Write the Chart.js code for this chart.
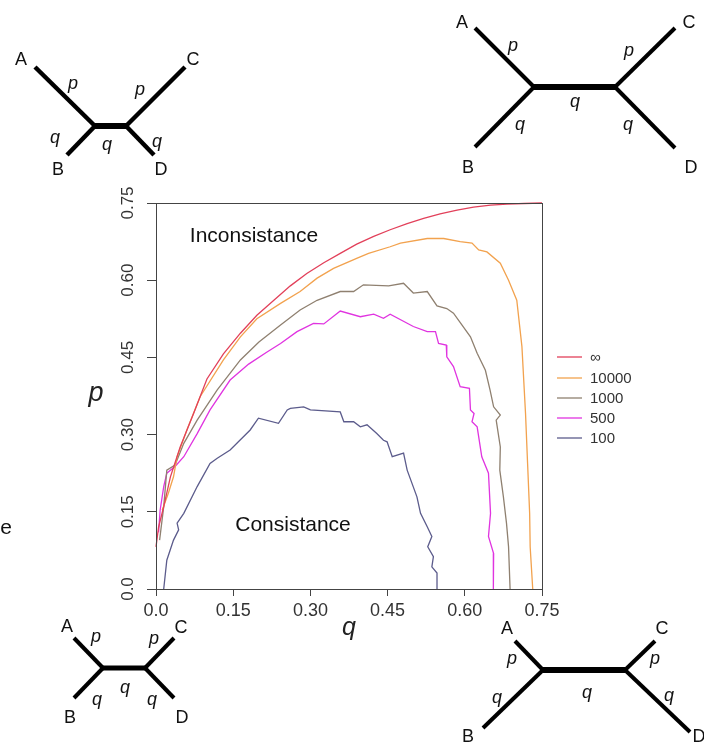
<!DOCTYPE html>
<html>
<head>
<meta charset="utf-8">
<script src="https://cdn.jsdelivr.net/npm/chart.js@4.4.1/dist/chart.umd.min.js"></script>
<style>
  body { margin: 0; background: #fff; }
</style>
</head>
<body>
<canvas id="chart" width="704" height="742"></canvas>
<script>
// series labels and colours
const seriesNames = ['\u221e', '10000', '1000', '500', '100'];
const seriesColors = ['#e2405a', '#f2a24e', '#8f8070', '#e034e0', '#5c5c8c'];

// q (x) and p (y)
const qInf = [0, 0.005, 0.015, 0.028, 0.047, 0.073, 0.099, 0.131, 0.164, 0.196, 0.229, 0.261, 0.293, 0.326, 0.358, 0.390, 0.423, 0.455, 0.488, 0.520, 0.552, 0.585, 0.617, 0.650, 0.682, 0.715, 0.75];
const pInf = [0.082, 0.12, 0.160, 0.218, 0.276, 0.341, 0.408, 0.457, 0.497, 0.532, 0.561, 0.589, 0.613, 0.634, 0.652, 0.670, 0.685, 0.698, 0.710, 0.720, 0.729, 0.736, 0.742, 0.746, 0.748, 0.749, 0.75];

const q10000 = [0.012, 0.024, 0.034, 0.041, 0.060, 0.086, 0.131, 0.164, 0.196, 0.242, 0.280, 0.313, 0.345, 0.391, 0.413, 0.455, 0.475, 0.527, 0.559, 0.591, 0.614, 0.627, 0.643, 0.669, 0.685, 0.701, 0.711, 0.718, 0.722, 0.726, 0.727, 0.732];
const p10000 = [0.153, 0.186, 0.218, 0.257, 0.309, 0.374, 0.445, 0.490, 0.525, 0.555, 0.578, 0.604, 0.623, 0.643, 0.652, 0.665, 0.672, 0.681, 0.681, 0.675, 0.672, 0.659, 0.655, 0.633, 0.600, 0.561, 0.471, 0.341, 0.244, 0.147, 0.082, 0.0];

const q1000 = [0.007, 0.015, 0.021, 0.037, 0.054, 0.080, 0.119, 0.164, 0.200, 0.242, 0.280, 0.313, 0.358, 0.384, 0.403, 0.452, 0.481, 0.500, 0.527, 0.546, 0.565, 0.578, 0.611, 0.624, 0.640, 0.649, 0.656, 0.669, 0.661, 0.669, 0.668, 0.675, 0.681, 0.685, 0.688];
const p1000 = [0.095, 0.160, 0.231, 0.241, 0.283, 0.328, 0.387, 0.445, 0.480, 0.513, 0.542, 0.561, 0.578, 0.578, 0.591, 0.589, 0.594, 0.575, 0.578, 0.550, 0.545, 0.536, 0.490, 0.458, 0.425, 0.387, 0.354, 0.338, 0.328, 0.276, 0.231, 0.179, 0.128, 0.082, 0.0];

const q500 = [0.005, 0.008, 0.015, 0.021, 0.037, 0.054, 0.080, 0.105, 0.144, 0.180, 0.215, 0.242, 0.274, 0.306, 0.326, 0.358, 0.397, 0.423, 0.442, 0.455, 0.500, 0.527, 0.543, 0.549, 0.564, 0.565, 0.578, 0.591, 0.609, 0.611, 0.618, 0.614, 0.624, 0.633, 0.646, 0.650, 0.646, 0.656, 0.655, 0.656];
const p500 = [0.11, 0.153, 0.199, 0.225, 0.238, 0.257, 0.302, 0.348, 0.406, 0.437, 0.460, 0.477, 0.500, 0.516, 0.515, 0.540, 0.529, 0.534, 0.526, 0.534, 0.510, 0.500, 0.500, 0.477, 0.474, 0.451, 0.432, 0.393, 0.390, 0.348, 0.341, 0.325, 0.315, 0.257, 0.225, 0.147, 0.102, 0.069, 0.050, 0.0];

const q100 = [0.015, 0.021, 0.034, 0.044, 0.041, 0.054, 0.080, 0.105, 0.119, 0.144, 0.183, 0.199, 0.238, 0.255, 0.261, 0.287, 0.300, 0.358, 0.365, 0.384, 0.397, 0.410, 0.429, 0.442, 0.449, 0.459, 0.481, 0.488, 0.507, 0.514, 0.527, 0.536, 0.528, 0.539, 0.536, 0.546, 0.546];
const p100 = [0.0, 0.056, 0.095, 0.115, 0.128, 0.147, 0.199, 0.244, 0.254, 0.270, 0.309, 0.332, 0.322, 0.348, 0.351, 0.354, 0.348, 0.344, 0.325, 0.325, 0.315, 0.319, 0.302, 0.289, 0.286, 0.257, 0.264, 0.231, 0.179, 0.147, 0.121, 0.102, 0.082, 0.063, 0.043, 0.031, 0.0];

const tickVals = [0, 0.15, 0.30, 0.45, 0.60, 0.75];
const tickLabels = ['0.0', '0.15', '0.30', '0.45', '0.60', '0.75'];

const qs = [qInf, q10000, q1000, q500, q100];
const ps = [pInf, p10000, p1000, p500, p100];

const FONT = "'Liberation Sans', Arial, sans-serif";
const ink = '#222';

const datasets = seriesNames.map((name, i) => ({
  label: name,
  data: qs[i].map((q, j) => ({ x: q, y: ps[i][j] })),
  borderColor: seriesColors[i],
  backgroundColor: seriesColors[i],
  borderWidth: 1.3,
  pointRadius: 0,
  showLine: true,
  tension: 0,
  clip: false
}));

// little quartet trees drawn round the plot
function tree(ctx, segs, labels) {
  ctx.save();
  ctx.strokeStyle = '#000';
  ctx.lineCap = 'butt';
  segs.forEach(s => {
    ctx.lineWidth = s[4];
    ctx.beginPath();
    ctx.moveTo(s[0], s[1]);
    ctx.lineTo(s[2], s[3]);
    ctx.stroke();
  });
  ctx.fillStyle = '#111';
  ctx.textAlign = 'center';
  ctx.textBaseline = 'middle';
  labels.forEach(l => {
    ctx.font = (l[3] ? 'italic ' : '') + '18px ' + FONT;
    ctx.fillText(l[0], l[1], l[2]);
  });
  ctx.restore();
}

const decor = {
  id: 'decor',
  afterDraw(chart) {
    const ctx = chart.ctx;
    const a = chart.chartArea;
    const xs = chart.scales.x, ys = chart.scales.y;
    ctx.save();
    // box
    ctx.strokeStyle = '#444';
    ctx.lineWidth = 1;
    ctx.strokeRect(a.left + 0.5, a.top + 0.5, a.right - a.left, a.bottom - a.top);

    // tick labels
    ctx.fillStyle = '#333';
    ctx.font = '18px ' + FONT;
    ctx.textAlign = 'center';
    ctx.textBaseline = 'middle';
    xs.ticks.forEach((t, i) => {
      ctx.fillText(tickLabels[i], xs.getPixelForValue(t.value), 611);
    });
    ctx.font = '17px ' + FONT;
    ys.ticks.forEach((t, i) => {
      ctx.save();
      ctx.translate(128, ys.getPixelForValue(t.value));
      ctx.rotate(-Math.PI / 2);
      ctx.fillText(tickLabels[i], 0, 0);
      ctx.restore();
    });

    // axis titles
    ctx.fillStyle = ink;
    ctx.font = 'italic 27px ' + FONT;
    ctx.fillText('p', 96, 393);
    ctx.font = 'italic 25px ' + FONT;
    ctx.fillText('q', 349, 628);

    // region names
    ctx.font = '21px ' + FONT;
    ctx.fillStyle = '#111';
    ctx.fillText('Inconsistance', 254, 236);
    ctx.fillText('Consistance', 293, 525);
    ctx.fillText('e', 6, 528);

    // legend
    ctx.font = '15px ' + FONT;
    ctx.textAlign = 'left';
    const ly = [357, 378, 398, 418, 438];
    chart.data.datasets.forEach((d, i) => {
      ctx.strokeStyle = d.borderColor;
      ctx.lineWidth = 1.3;
      ctx.beginPath();
      ctx.moveTo(557, ly[i]);
      ctx.lineTo(582, ly[i]);
      ctx.stroke();
      ctx.fillStyle = '#333';
      ctx.fillText(d.label, 590, ly[i] + 1);
    });
    ctx.restore();

    // trees
    tree(ctx,
      [[35, 67, 95, 126, 4.5], [95, 126, 126, 126, 6], [126, 126, 185, 67, 4.5], [95, 126, 67, 155, 4.5], [126, 126, 154, 155, 4.5]],
      [['A', 21, 60], ['C', 193, 60], ['B', 58, 170], ['D', 161, 170],
       ['p', 73, 84, 1], ['p', 140, 90, 1], ['q', 55, 138, 1], ['q', 107, 145, 1], ['q', 157, 142, 1]]);
    tree(ctx,
      [[475, 28, 534, 87, 4], [534, 87, 615, 87, 6], [615, 87, 675, 28, 4], [534, 87, 475, 147, 4], [615, 87, 675, 148, 4]],
      [['A', 462, 23], ['C', 689, 23], ['B', 468, 168], ['D', 691, 168],
       ['p', 513, 46, 1], ['p', 629, 51, 1], ['q', 520, 125, 1], ['q', 575, 102, 1], ['q', 628, 125, 1]]);
    tree(ctx,
      [[74, 638, 103, 668, 4], [103, 668, 145, 668, 5], [145, 668, 174, 638, 4], [103, 668, 74, 698, 4], [145, 668, 174, 698, 4]],
      [['A', 67, 627], ['C', 181, 628], ['B', 70, 718], ['D', 182, 718],
       ['p', 96, 637, 1], ['p', 154, 639, 1], ['q', 97, 700, 1], ['q', 125, 688, 1], ['q', 152, 700, 1]]);
    tree(ctx,
      [[515, 641, 543, 670, 4], [543, 670, 625, 670, 6], [625, 670, 655, 641, 4], [543, 670, 483, 728, 4], [625, 670, 690, 732, 4]],
      [['A', 507, 629], ['C', 662, 629], ['B', 468, 737], ['D', 699, 737],
       ['p', 512, 659, 1], ['p', 655, 659, 1], ['q', 497, 698, 1], ['q', 587, 693, 1], ['q', 669, 696, 1]]);
  }
};

new Chart(document.getElementById('chart').getContext('2d'), {
  type: 'scatter',
  data: { datasets: datasets },
  options: {
    responsive: false,
    animation: false,
    layout: { padding: { top: 203, right: 162, left: 0, bottom: 0 } },
    plugins: { legend: { display: false }, tooltip: { enabled: false } },
    scales: {
      x: {
        type: 'linear', min: 0, max: 0.75,
        afterBuildTicks: s => { s.ticks = tickVals.map(v => ({ value: v })); },
        afterFit: s => { s.height = 153; },
        ticks: { display: false },
        border: { display: false },
        grid: { drawOnChartArea: false, tickLength: 7, color: '#444' }
      },
      y: {
        type: 'linear', min: 0, max: 0.75,
        afterBuildTicks: s => { s.ticks = tickVals.map(v => ({ value: v })); },
        afterFit: s => { s.width = 156; },
        ticks: { display: false },
        border: { display: false },
        grid: { drawOnChartArea: false, tickLength: 9, color: '#444' }
      }
    }
  },
  plugins: [decor]
});
</script>
</body>
</html>
